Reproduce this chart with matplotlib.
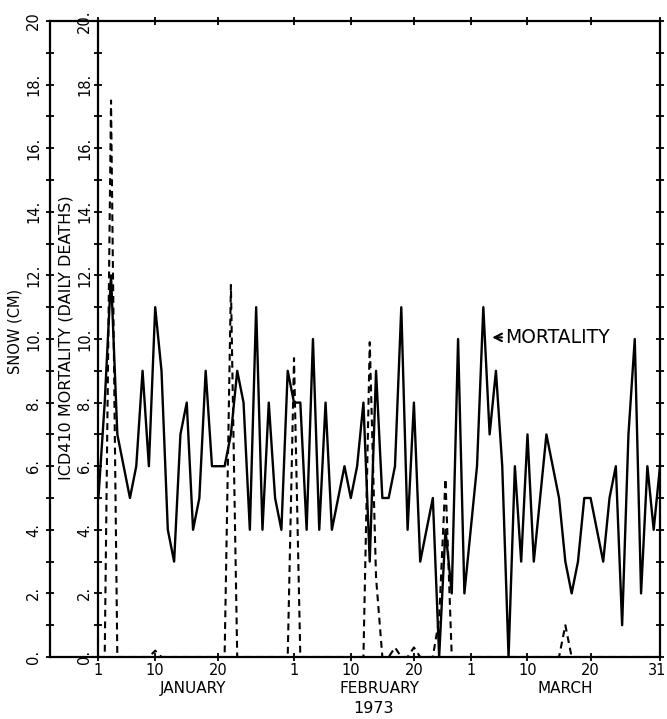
import numpy as np
import matplotlib
matplotlib.use("Agg")
import matplotlib.pyplot as plt
from matplotlib.transforms import ScaledTranslation

# daily values, Jan 1 .. Mar 31 1973 (day 1..90)
days = np.arange(1, 91)
mortality = [5, 8, 12, 7, 6, 5, 6, 9, 6, 11,
             9, 4, 3, 7, 8, 4, 5, 9, 6, 6,
             6, 7, 9, 8, 4, 11, 4, 8, 5, 4,
             9, 8, 8, 4, 10, 4, 8, 4, 5, 6,
             5, 6, 8, 3, 9, 5, 5, 6, 11, 4,
             8, 3, 4, 5, 0, 4, 2, 10, 2, 4,
             6, 11, 7, 9, 6, 0, 6, 3, 7, 3,
             5, 7, 6, 5, 3, 2, 3, 5, 5, 4,
             3, 5, 6, 1, 7, 10, 2, 6, 4, 6]
snow = [0, 0, 17.5, 0, 0, 0, 0, 0, 0, 0.2,
        0, 0, 0, 0, 0, 0, 0, 0, 0, 0,
        0, 11.7, 0, 0, 0, 0, 0, 0, 0, 0,
        0, 9.4, 0, 0, 0, 0, 0, 0, 0, 0,
        0, 0, 0, 9.9, 2.5, 0, 0, 0.3, 0, 0,
        0.3, 0, 0, 0, 1.2, 5.6, 0, 0, 0, 0,
        0, 0, 0, 0, 0, 0, 0, 0, 0, 0,
        0, 0, 0, 0, 1.0, 0, 0, 0, 0, 0,
        0, 0, 0, 0, 0, 0, 0, 0, 0, 0]

xtick_days = [1, 10, 20, 32, 41, 51, 60, 69, 79, 90]
xtick_labels = ["1", "10", "20", "1", "10", "20", "1", "10", "20", "31"]
months = ["JANUARY", "FEBRUARY", "MARCH"]
month_mid = [16, 45.5, 75]

plt.rcParams['font.family'] = ['DejaVu Sans']
W, H = 667, 719
fig = plt.figure(figsize=(W / 100, H / 100), dpi=100)

x0, x1, y_top, y_bot = 98.4, 660, 21, 657
ax = fig.add_axes([x0 / W, 1 - y_bot / H, (x1 - x0) / W, (y_bot - y_top) / H])
ax_out = fig.add_axes([50 / W, 1 - y_bot / H, (x0 - 50) / W, (y_bot - y_top) / H])

lw = 1.6
ax.plot(days, mortality, color='black', lw=1.7)
ax.plot(days, snow, color='black', lw=1.5, linestyle=(0, (3.3, 2.3)))

ax.set_xlim(1, 90)
ax.set_ylim(0, 20)
for s in ax.spines.values():
    s.set_linewidth(lw)

yt = np.arange(0, 21, 1)
ax.set_yticks(yt)
ax.set_yticklabels(["%d." % v if v % 2 == 0 else "" for v in yt],
                   rotation=90, va='center', fontsize=10.5)
ax.tick_params(axis='y', which='both', direction='inout', length=6, width=1.3,
               right=True, pad=1.5)
ax.set_xticks(xtick_days)
ax.set_xticklabels(xtick_labels, fontsize=10.5)
ax.tick_params(axis='x', direction='inout', length=6, width=1.3, top=True, pad=1.5)
# keep the last day label inside the figure
last = ax.get_xticklabels()[-1]
last.set_transform(last.get_transform() + ScaledTranslation(-3 / 100, 0, fig.dpi_scale_trans))

for lab, m in zip(months, month_mid):
    ax.text(m, -0.05, lab, transform=ax.get_xaxis_transform(),
            ha='center', va='center', fontsize=11)
ax.text(0.49, -0.081, "1973", transform=ax.transAxes,
        ha='center', va='center', fontsize=11.5)

ax.annotate("MORTALITY", xy=(63.4, 10.05), xytext=(65.4, 10.05),
            va='center', ha='left', fontsize=13.5,
            arrowprops=dict(arrowstyle='->', color='black', lw=1.5,
                            shrinkA=0, shrinkB=0))

# outer snow axis
ax_out.set_xlim(0, 1)
ax_out.set_ylim(0, 20)
ax_out.spines['right'].set_visible(False)
for k in ['left', 'top', 'bottom']:
    ax_out.spines[k].set_linewidth(lw)
ax_out.set_xticks([])
ax_out.set_yticks(yt)
out_labels = ["%d." % v if v % 2 == 0 else "" for v in yt]
out_labels[-1] = "20"
ax_out.set_yticklabels(out_labels, rotation=90, va='center', fontsize=10.5)
ax_out.tick_params(axis='y', direction='inout', length=6, width=1.3, pad=3.5)
ax_out.patch.set_visible(False)

fig.text(15 / W, 1 - 331 / H, "SNOW (CM)", rotation=90,
         ha='center', va='center', fontsize=10.5)
fig.text(66 / W, 1 - 338 / H, "ICD410 MORTALITY (DAILY DEATHS)", rotation=90,
         ha='center', va='center', fontsize=11.5)

fig.savefig("out.png", dpi=100)
